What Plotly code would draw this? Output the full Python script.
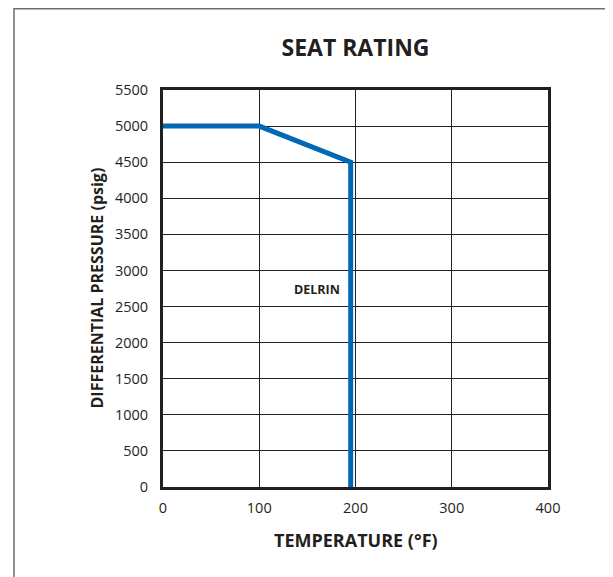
import plotly.graph_objects as go

temperature_f = [0, 100, 195, 195]
pressure_psig = [5000, 5000, 4500, 0]
x_ticks = [0, 100, 200, 300, 400]
y_ticks = list(range(0, 5501, 500))
series_label = "DELRIN"
label_pos = (186, 2743)

dark = "#231f20"
blue = "#0068b4"
font = "Open Sans"

W, H = 613, 577
ML, MT, PW, PH = 155, 82, 385, 397

fig = go.Figure()
fig.add_trace(go.Scatter(x=temperature_f, y=pressure_psig, mode="lines",
                         line=dict(color=blue, width=5), showlegend=False,
                         hoverinfo="skip"))

fig.add_annotation(x=label_pos[0], y=label_pos[1], text="<b>" + series_label + "</b>",
                   showarrow=False, xanchor="right", yanchor="middle",
                   font=dict(family=font, size=12.5, color=dark))

# axis titles
fig.add_annotation(xref="paper", yref="paper", x=0.5, y=0, yshift=-52.5,
                   text="<b>TEMPERATURE (°F)</b>", showarrow=False,
                   xanchor="center", yanchor="middle",
                   font=dict(family=font, size=18, color=dark))
fig.add_annotation(xref="paper", yref="paper", x=0, y=0.5, xshift=-67,
                   text="<b>DIFFERENTIAL PRESSURE (psig)</b>", showarrow=False,
                   textangle=-90, xanchor="center", yanchor="middle",
                   font=dict(family=font, size=16, color=dark))

# outer frame
fig.add_shape(type="rect", xref="paper", yref="paper",
              x0=(6 - ML) / PW, x1=(W + 40 - ML) / PW,
              y0=(MT + PH - H - 40) / PH, y1=(MT + PH - 0.8) / PH,
              line=dict(color="#6d6e71", width=1.5), layer="below")

fig.update_layout(
    width=W, height=H,
    margin=dict(l=ML, r=W - ML - PW, t=MT, b=H - MT - PH),
    paper_bgcolor="white", plot_bgcolor="white",
    title=dict(text="<b>SEAT RATING</b>", x=0.5, xanchor="center", xref="paper",
               y=1 - 40 / H, yanchor="middle", yref="container",
               font=dict(family=font, size=23, color=dark)),
    xaxis=dict(range=[0, 400], tickvals=x_ticks, ticktext=[str(v) for v in x_ticks],
               showgrid=True, gridcolor=dark, gridwidth=1.3,
               showline=True, linecolor=dark, linewidth=3, mirror=True,
               ticks="", ticklabelstandoff=6, zeroline=False,
               tickfont=dict(family=font, size=14.5, color=dark)),
    yaxis=dict(range=[0, 5500], tickvals=y_ticks, ticktext=[str(v) for v in y_ticks],
               showgrid=True, gridcolor=dark, gridwidth=1.3,
               showline=True, linecolor=dark, linewidth=3, mirror=True,
               ticks="", ticklabelstandoff=9, zeroline=False,
               tickfont=dict(family=font, size=14.5, color=dark)),
)

fig.write_html("out.html")
